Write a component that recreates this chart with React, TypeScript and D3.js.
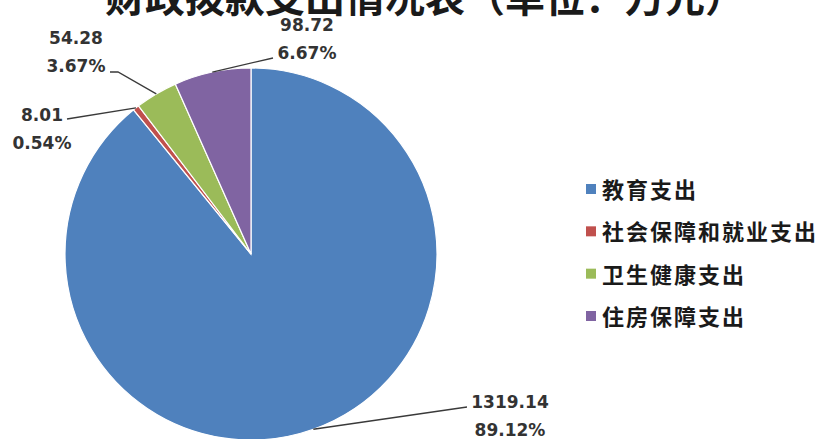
import * as d3 from "d3";
import { useEffect, useRef } from "react";

const title = "财政拨款支出情况表（单位：万元）";
const categories = ["教育支出", "社会保障和就业支出", "卫生健康支出", "住房保障支出"];
const values = [1319.14, 8.01, 54.28, 98.72];
const percents = ["89.12%", "0.54%", "3.67%", "6.67%"];
const colorList = ["#4f81bd", "#c0504d", "#9bbb59", "#8064a2"];

function drawPie(svgEl: SVGSVGElement) {
    const width = 825;
    const height = 439;
    const cx = 251;
    const cy = 254;
    const radius = 186;

    const svg = d3.select(svgEl);
    svg.selectAll("*").remove();
    svg.attr("width", width).attr("height", height);

    svg.append("rect").attr("width", width).attr("height", height).attr("fill", "#fff");

    // title, cut off at the top like the original
    svg.append("text")
        .attr("x", 105)
        .attr("y", 12)
        .attr("font-family", "'Noto Sans CJK SC'")
        .attr("font-weight", "bold")
        .attr("font-size", 40)
        .attr("fill", "#1a1a1a")
        .text(title);

    const pie = d3.pie<number>().sort(null).value(d => d);
    const arcs = pie(values);
    const arc = d3.arc<d3.PieArcDatum<number>>().innerRadius(0).outerRadius(radius);
    const edge = d3.arc<d3.PieArcDatum<number>>().innerRadius(radius).outerRadius(radius);

    const g = svg.append("g").attr("transform", `translate(${cx},${cy})`);
    g.selectAll("path.slice")
        .data(arcs)
        .enter()
        .append("path")
        .attr("class", "slice")
        .attr("d", arc)
        .attr("fill", (_d, i) => colorList[i])
        .attr("stroke", "#fff")
        .attr("stroke-width", 1.2);

    // leader line bend points and label centres (layout, relative to page)
    const labelLayout = [
        { bend: [[467, 407]], tx: 510, ty: 402 },
        { bend: [[67, 119]], tx: 42, ty: 115 },
        { bend: [[118, 72], [110, 72]], tx: 76, ty: 38 },
        { bend: [[273, 58]], tx: 307, ty: 25 },
    ];

    arcs.forEach((d, i) => {
        const [ex, ey] = edge.centroid(d);
        const pts: [number, number][] = [[ex + cx, ey + cy], ...labelLayout[i].bend as [number, number][]];
        svg.append("path")
            .attr("d", d3.line()(pts))
            .attr("fill", "none")
            .attr("stroke", "#3a3a3a")
            .attr("stroke-width", 1.3);

        const lab = labelLayout[i];
        svg.append("text")
            .attr("x", lab.tx)
            .attr("y", lab.ty)
            .attr("text-anchor", "middle")
            .attr("dominant-baseline", "central")
            .attr("font-family", "'DejaVu Sans'")
            .attr("font-weight", "bold")
            .attr("font-size", 17)
            .attr("fill", "#333")
            .text(d3.format(".2f")(values[i]));
        svg.append("text")
            .attr("x", lab.tx)
            .attr("y", lab.ty + 28)
            .attr("text-anchor", "middle")
            .attr("dominant-baseline", "central")
            .attr("font-family", "'DejaVu Sans'")
            .attr("font-weight", "bold")
            .attr("font-size", 17)
            .attr("fill", "#333")
            .text(percents[i]);
    });

    // legend
    const legend = svg.append("g").attr("transform", "translate(586,188)");
    const rowY = d3.scalePoint<string>().domain(categories).range([0, 127]);
    categories.forEach((c, i) => {
        const y = rowY(c) ?? 0;
        legend.append("rect")
            .attr("x", 0)
            .attr("y", y - 4)
            .attr("width", 10)
            .attr("height", 10)
            .attr("fill", colorList[i]);
        legend.append("text")
            .attr("x", 16)
            .attr("y", y)
            .attr("dominant-baseline", "central")
            .attr("font-family", "'Noto Sans CJK SC'")
            .attr("font-weight", "bold")
            .attr("font-size", 22)
            .attr("fill", "#1a1a1a")
            .attr("textLength", c.length * 24 - 2)
            .attr("lengthAdjust", "spacing")
            .text(c);
    });
}

export default function App() {
    const svgRef = useRef<SVGSVGElement>(null);
    useEffect(() => {
        if (svgRef.current) drawPie(svgRef.current);
    }, []);
    return (
        <svg ref={svgRef} style={{ position: "fixed", left: 0, top: 0, display: "block" }} />
    );
}
